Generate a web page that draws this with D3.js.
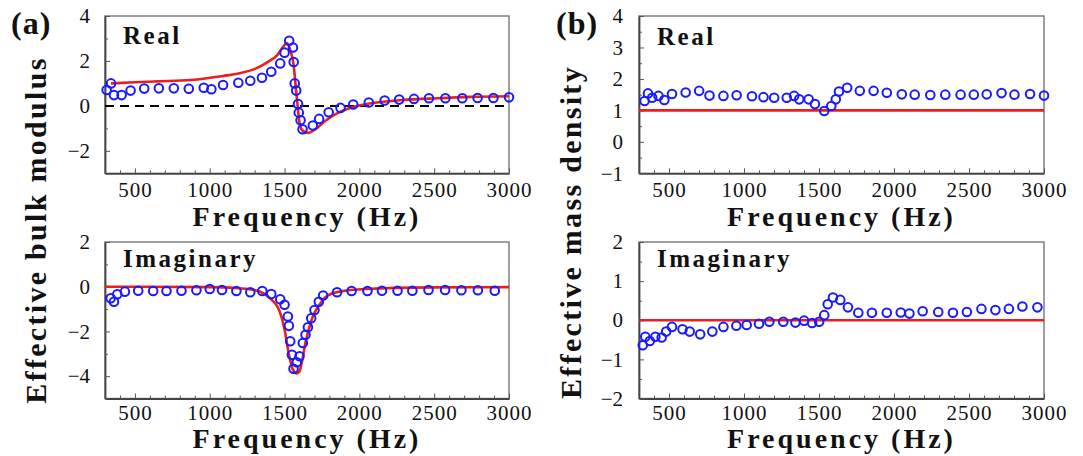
<!DOCTYPE html>
<html><head><meta charset="utf-8">
<script src="https://cdn.jsdelivr.net/npm/d3@7"></script>
<style>body{margin:0;background:#fff}svg{display:block}</style>
</head><body><svg id="c" width="1083" height="456"></svg>
<script>
// ---------- data ----------
const freqTicks = [500, 1000, 1500, 2000, 2500, 3000];

// (a) Real part of effective bulk modulus
const bulkReFreq = [311,340,360,411,471,562,660,760,860,960,1011,1089,1191,1271,1349,1411,1471,1500,1531,1556,1561,1568,1578,1590,1595,1607,1620,1689,1731,1795,1874,1959,2063,2169,2266,2365,2465,2575,2688,2790,2896,3000];
const bulkReVal  = [0.71,1.0,0.48,0.48,0.68,0.77,0.78,0.78,0.76,0.81,0.74,0.93,1.03,1.12,1.25,1.52,1.89,2.37,2.9,2.6,1.95,1.0,0.68,0.08,-0.3,-0.64,-1.04,-0.87,-0.58,-0.28,-0.09,0.06,0.15,0.24,0.28,0.31,0.34,0.34,0.34,0.35,0.35,0.38];
const bulkReFitFreq = [340,500,650,870,1090,1200,1310,1400,1450,1490,1515,1540,1560,1580,1600,1620,1660,1710,1780,1870,1960,2070,2290,2520,2740,3000];
const bulkReFitVal  = [1.0,1.05,1.09,1.15,1.33,1.45,1.67,2.0,2.25,2.63,2.8,2.45,1.85,0.5,-0.75,-1.1,-1.2,-1.02,-0.63,-0.27,-0.05,0.11,0.26,0.34,0.40,0.43];

// (a) Imaginary part of effective bulk modulus
const bulkImFreq = [338,360,382,433,522,622,711,811,911,1000,1082,1178,1271,1351,1411,1471,1500,1522,1529,1538,1549,1560,1582,1600,1622,1640,1656,1678,1700,1729,1758,1851,1948,2054,2151,2255,2354,2462,2573,2682,2792,2905];
const bulkImVal  = [-0.52,-0.67,-0.34,-0.22,-0.18,-0.19,-0.19,-0.18,-0.16,-0.10,-0.15,-0.19,-0.25,-0.19,-0.33,-0.56,-0.81,-1.33,-1.75,-2.44,-3.04,-3.67,-3.38,-3.11,-2.52,-2.15,-1.81,-1.41,-1.04,-0.67,-0.39,-0.25,-0.19,-0.19,-0.18,-0.18,-0.18,-0.15,-0.15,-0.16,-0.16,-0.18];
const bulkImFitFreq = [300,1000,1200,1300,1360,1400,1467,1500,1527,1555,1582,1600,1644,1689,1733,1778,1867,2044,2487,3000];
const bulkImFitVal  = [0,-0.02,-0.07,-0.15,-0.3,-0.5,-1.1,-1.9,-2.95,-3.7,-3.88,-3.78,-2.37,-1.33,-0.81,-0.44,-0.22,-0.1,-0.03,-0.02];

// (b) Real part of effective mass density
const massReFreq = [337,360,388,430,469,520,611,701,770,863,951,1053,1130,1201,1285,1334,1368,1431,1473,1535,1582,1612,1633,1688,1772,1864,1952,2052,2138,2242,2342,2444,2532,2618,2717,2803,2907,3000];
const massReVal  = [1.30,1.54,1.40,1.46,1.33,1.52,1.57,1.62,1.47,1.46,1.48,1.45,1.42,1.40,1.40,1.46,1.35,1.35,1.20,0.98,1.14,1.35,1.60,1.72,1.62,1.62,1.56,1.51,1.50,1.49,1.50,1.50,1.50,1.51,1.55,1.50,1.52,1.47];
const massReFitFreq = [300, 3000];
const massReFitVal  = [1, 1];

// (b) Imaginary part of effective mass density
const massImFreq = [325,342,372,409,451,481,520,590,638,708,789,863,949,1018,1100,1169,1262,1343,1401,1454,1501,1535,1558,1593,1642,1693,1762,1853,1952,2045,2103,2191,2295,2393,2486,2583,2676,2766,2856,2956];
const massImVal  = [-0.64,-0.42,-0.53,-0.42,-0.44,-0.29,-0.17,-0.23,-0.29,-0.36,-0.29,-0.17,-0.14,-0.12,-0.09,-0.04,-0.04,-0.06,-0.01,-0.07,-0.04,0.13,0.41,0.58,0.52,0.33,0.19,0.19,0.19,0.20,0.17,0.23,0.21,0.19,0.21,0.29,0.26,0.29,0.35,0.33];
const massImFitFreq = [300, 3000];
const massImFitVal  = [0, 0];

// ---------- drawing ----------
const svg = d3.select("#c");
const SERIF = "'Liberation Serif','Times New Roman',serif";
const zip = (a, b) => a.map((v, i) => [v, b[i]]);

function panel(o) {
  const x = d3.scaleLinear().domain([300, 3000]).range([o.x0, o.x1]);
  const y = d3.scaleLinear().domain(o.yDomain).range([o.y1, o.y0]);
  const g = svg.append("g");

  g.append("rect").attr("x", o.x0).attr("y", o.y0)
    .attr("width", o.x1 - o.x0).attr("height", o.y1 - o.y0)
    .attr("fill", "none").attr("stroke", "#777").attr("stroke-width", 1.4);

  const xa = g.append("g").attr("transform", `translate(0,${o.y1})`)
    .call(d3.axisBottom(x).tickValues(freqTicks).tickSize(-5).tickSizeOuter(0).tickPadding(o.xPad).tickFormat(d3.format("d")));
  const xm = g.append("g").attr("transform", `translate(0,${o.y1})`)
    .call(d3.axisBottom(x).tickValues(d3.range(400, 3000, 100).filter(v => v % 500)).tickSize(-3).tickSizeOuter(0).tickFormat(""));
  xm.select(".domain").remove();
  const ya = g.append("g").attr("transform", `translate(${o.x0},0)`)
    .call(d3.axisLeft(y).tickValues(o.yTicks).tickSize(-5).tickSizeOuter(0).tickPadding(o.yPad).tickFormat(d3.format("d")));
  const ym = g.append("g").attr("transform", `translate(${o.x0},0)`)
    .call(d3.axisLeft(y).tickValues(o.yMinor).tickSize(-3).tickSizeOuter(0).tickFormat(""));
  ym.select(".domain").remove();

  [xa, ya, xm, ym].forEach(a => {
    a.selectAll(".domain").attr("stroke", "#444").attr("stroke-width", 1.8);
    a.selectAll(".tick line").attr("stroke", "#555").attr("stroke-width", 1);
    a.selectAll("text").attr("font-family", SERIF).attr("font-size", 21).attr("fill", "#111");
  });
  xa.selectAll("text").attr("dy", "0.71em").attr("letter-spacing", 1);

  if (o.dashZero) {
    g.append("line").attr("x1", x(300)).attr("x2", x(3000)).attr("y1", y(0)).attr("y2", y(0))
      .attr("stroke", "#000").attr("stroke-width", 2).attr("stroke-dasharray", "9,6");
  }

  g.append("path").datum(zip(o.fitF, o.fitV))
    .attr("fill", "none").attr("stroke", "#ee1c1c").attr("stroke-width", 2.6)
    .attr("d", d3.line().x(d => x(d[0])).y(d => y(d[1])).curve(d3.curveMonotoneX));

  g.selectAll("circle.pt").data(zip(o.ptsF, o.ptsV)).join("circle")
    .attr("class", "pt").attr("cx", d => x(d[0])).attr("cy", d => y(d[1])).attr("r", 4.3)
    .attr("fill", "none").attr("stroke", "#1a1aff").attr("stroke-width", 2);

  g.append("text").attr("x", o.x0 + 18).attr("y", o.y0 + o.labelDy)
    .attr("font-family", SERIF).attr("font-weight", "bold").attr("font-size", 25)
    .attr("letter-spacing", 2.5).attr("fill", "#111").text(o.label);

  g.append("text").attr("x", (o.x0 + o.x1) / 2).attr("y", o.y1 + o.titleDy)
    .attr("text-anchor", "middle").attr("font-family", SERIF).attr("font-weight", "bold")
    .attr("font-size", 28).attr("letter-spacing", 3).attr("fill", "#111").text("Frequency (Hz)");
}

const AX = [105, 509], BX = [639, 1044];
const TOP = [16, 173.3], BOT = [242, 398.5];

panel({x0: AX[0], x1: AX[1], y0: TOP[0], y1: TOP[1], yDomain: [-3, 4], yTicks: [-2, 0, 2, 4], yMinor: [-3, -1, 1, 3], yPad: 15, xPad: 9,
  ptsF: bulkReFreq, ptsV: bulkReVal, fitF: bulkReFitFreq, fitV: bulkReFitVal, label: "Real", labelDy: 28, titleDy: 53, dashZero: true});
panel({x0: AX[0], x1: AX[1], y0: BOT[0], y1: BOT[1], yDomain: [-5, 2], yTicks: [-4, -2, 0, 2], yMinor: [-5, -3, -1, 1], yPad: 15, xPad: 7,
  ptsF: bulkImFreq, ptsV: bulkImVal, fitF: bulkImFitFreq, fitV: bulkImFitVal, label: "Imaginary", labelDy: 25, titleDy: 49});
panel({x0: BX[0], x1: BX[1], y0: TOP[0], y1: TOP[1], yDomain: [-1, 4], yTicks: [-1, 0, 1, 2, 3, 4], yMinor: [-0.5, 0.5, 1.5, 2.5, 3.5], yPad: 16, xPad: 9,
  ptsF: massReFreq, ptsV: massReVal, fitF: massReFitFreq, fitV: massReFitVal, label: "Real", labelDy: 29, titleDy: 53});
panel({x0: BX[0], x1: BX[1], y0: BOT[0], y1: BOT[1], yDomain: [-2, 2], yTicks: [-2, -1, 0, 1, 2], yMinor: [-1.5, -0.5, 0.5, 1.5], yPad: 16, xPad: 7,
  ptsF: massImFreq, ptsV: massImVal, fitF: massImFitFreq, fitV: massImFitVal, label: "Imaginary", labelDy: 25, titleDy: 49});

// y-axis titles
[["Effective bulk modulus", 46, 230], ["Effective mass density", 581, 232]].forEach(([t, bx, cy]) => {
  svg.append("text").attr("transform", `translate(${bx},${cy}) rotate(-90)`)
    .attr("text-anchor", "middle").attr("font-family", SERIF).attr("font-weight", "bold")
    .attr("font-size", 30).attr("letter-spacing", 2.3).attr("fill", "#111").text(t);
});

// panel letters
[["(a)", 11, 34], ["(b)", 556, 34]].forEach(([t, px, py]) => {
  svg.append("text").attr("x", px).attr("y", py).attr("font-family", SERIF).attr("font-weight", "bold")
    .attr("font-size", 32).attr("letter-spacing", 1).attr("fill", "#111").text(t);
});
</script>
</body></html>
